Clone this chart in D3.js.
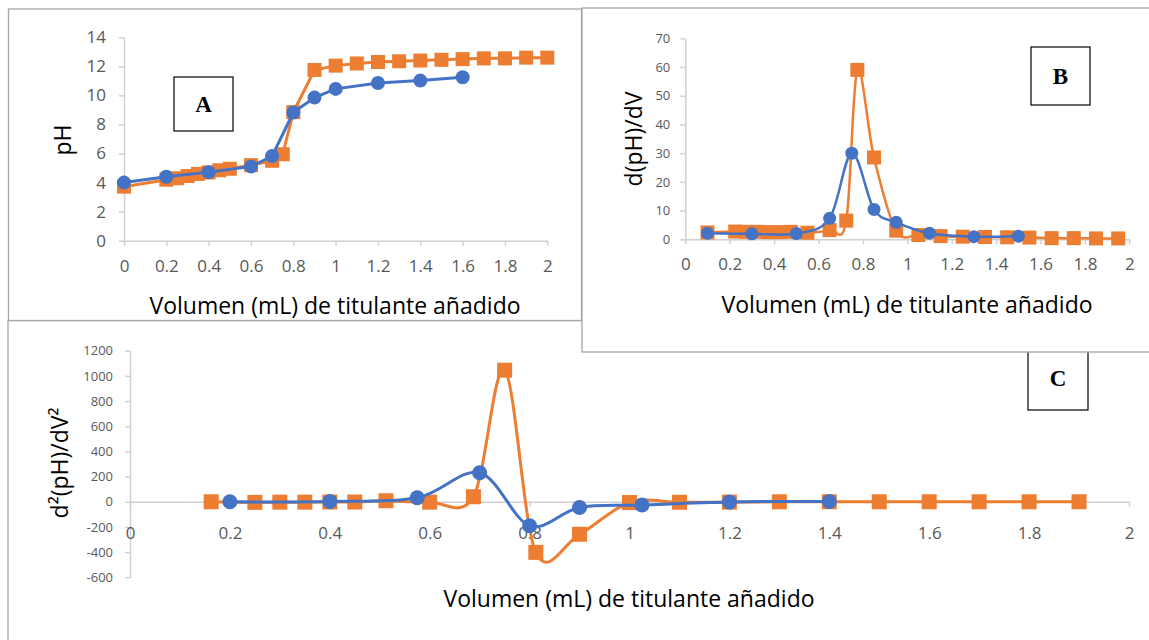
<!DOCTYPE html>
<html>
<head>
<meta charset="utf-8">
<script src="https://cdn.jsdelivr.net/npm/d3@7"></script>
<style>
  body { margin: 0; background: #fff; }
  text { font-family: "Open Sans", sans-serif; }
</style>
</head>
<body>
<svg id="chart" width="1149" height="640"></svg>
<script>
// ---- data ----
const xTicks = [0, 0.2, 0.4, 0.6, 0.8, 1, 1.2, 1.4, 1.6, 1.8, 2];

// A: pH vs volume
const yTicksA = [0, 2, 4, 6, 8, 10, 12, 14];
const volA_blue = [0, 0.2, 0.4, 0.6, 0.7, 0.8, 0.9, 1.0, 1.2, 1.4, 1.6];
const phA_blue = [4.0, 4.4, 4.72, 5.1, 5.83, 8.82, 9.85, 10.45, 10.85, 11.02, 11.25];
const volA_orange = [0, 0.2, 0.25, 0.3, 0.35, 0.4, 0.45, 0.5, 0.6, 0.7, 0.75, 0.8, 0.9, 1.0, 1.1, 1.2, 1.3, 1.4, 1.5, 1.6, 1.7, 1.8, 1.9, 2.0];
const phA_orange = [3.72, 4.2, 4.3, 4.45, 4.6, 4.7, 4.85, 4.95, 5.2, 5.5, 5.95, 8.85, 11.75, 12.05, 12.2, 12.3, 12.35, 12.4, 12.45, 12.5, 12.55, 12.55, 12.6, 12.6];

// B: first derivative
const yTicksB = [0, 10, 20, 30, 40, 50, 60, 70];
const volB_blue = [0.1, 0.3, 0.5, 0.65, 0.75, 0.85, 0.95, 1.1, 1.3, 1.5];
const dB_blue = [2.1, 1.9, 2.0, 7.3, 30, 10.4, 5.9, 2.1, 0.9, 1.1];
const volB_orange = [0.1, 0.225, 0.275, 0.325, 0.375, 0.425, 0.475, 0.55, 0.65, 0.725, 0.775, 0.85, 0.95, 1.05, 1.15, 1.25, 1.35, 1.45, 1.55, 1.65, 1.75, 1.85, 1.95];
const dB_orange = [2.4, 2.7, 2.6, 2.6, 2.5, 2.5, 2.6, 2.3, 3.2, 6.5, 59, 28.5, 3.0, 1.5, 1.1, 0.9, 0.8, 0.7, 0.6, 0.4, 0.4, 0.3, 0.3];

// C: second derivative
const yTicksC = [-600, -400, -200, 0, 200, 400, 600, 800, 1000, 1200];
const volC_blue = [0.2, 0.4, 0.575, 0.7, 0.8, 0.9, 1.025, 1.2, 1.4];
const d2C_blue = [0, 2, 32, 230, -190, -45, -26, -2, 3];
const volC_orange = [0.1625, 0.25, 0.3, 0.35, 0.4, 0.45, 0.5125, 0.6, 0.6875, 0.75, 0.8125, 0.9, 1.0, 1.1, 1.2, 1.3, 1.4, 1.5, 1.6, 1.7, 1.8, 1.9];
const d2C_orange = [0, -5, -3, -3, -2, -2, 8, -3, 40, 1045, -402, -258, -6, -4, -3, 0, 0, 0, 0, 0, 0, 0];

const xTitle = "Volumen (mL) de titulante añadido";

const BLUE = "#4472c4", ORANGE = "#ed7d31";
const AXIS = "#d0d0d0", TICKTXT = "#595959", FRAME = "#a6a6a6";

const svg = d3.select("#chart");
svg.append("rect").attr("width", 1149).attr("height", 640).attr("fill", "#fff");

const zip = (xs, ys) => xs.map((v, i) => ({x: v, y: ys[i]}));
const fmt = d => String(+d.toFixed(1));

function panel(g, o) {
  const x = d3.scaleLinear().domain([0, 2]).range(o.xr);
  const y = d3.scaleLinear().domain(o.yd).range(o.yr);
  const axisY = y(Math.max(0, o.yd[0]));

  const gy = g.append("g").attr("transform", `translate(${o.xr[0]},0)`)
    .call(d3.axisLeft(y).tickValues(o.yTicks).tickFormat(d => String(d))
      .tickSize(5).tickSizeOuter(0).tickPadding(o.yPad));
  gy.selectAll("text").attr("fill", TICKTXT).style("font-size", o.yFont + "px");

  const gx = g.append("g").attr("transform", `translate(0,${axisY})`)
    .call(d3.axisBottom(x).tickValues(xTicks).tickFormat(fmt).tickSize(5).tickSizeOuter(0).tickPadding(o.xPad));
  gx.selectAll("text").attr("fill", TICKTXT).style("font-size", o.xFont + "px");

  [gx, gy].forEach(a => {
    a.select(".domain").attr("stroke", AXIS).attr("stroke-width", 1.5);
    a.selectAll(".tick line").attr("stroke", AXIS).attr("stroke-width", 1.5);
  });

  const line = d3.line().x(d => x(d.x)).y(d => y(d.y)).curve(o.curve);

  // orange series (squares) first, blue (circles) on top
  const orange = zip(o.ox, o.oy);
  g.append("path").attr("d", line(orange)).attr("fill", "none")
    .attr("stroke", ORANGE).attr("stroke-width", o.lw);
  g.append("g").selectAll("rect").data(orange).join("rect")
    .attr("x", d => x(d.x) - o.sq / 2).attr("y", d => y(d.y) - o.sq / 2)
    .attr("width", o.sq).attr("height", o.sq).attr("fill", ORANGE);

  const blue = zip(o.bx, o.by);
  g.append("path").attr("d", line(blue)).attr("fill", "none")
    .attr("stroke", BLUE).attr("stroke-width", o.lw);
  g.append("g").selectAll("circle").data(blue).join("circle")
    .attr("cx", d => x(d.x)).attr("cy", d => y(d.y)).attr("r", o.r).attr("fill", BLUE);

  // axis titles
  g.append("text").attr("transform", `translate(${o.yt[0]},${o.yt[1]}) rotate(-90)`)
    .attr("text-anchor", "middle").attr("dy", "0.35em")
    .style("font-size", "23px").attr("fill", "#000").text(o.yTitle);
  g.append("text").attr("x", o.xt[0]).attr("y", o.xt[1])
    .attr("text-anchor", "middle").attr("dy", "0.35em")
    .style("font-size", "23px").attr("fill", "#000").text(xTitle);
}

function labelBox(g, x0, y0, x1, y1, letter) {
  g.append("rect").attr("x", x0).attr("y", y0).attr("width", x1 - x0).attr("height", y1 - y0)
    .attr("fill", "#fff").attr("stroke", "#000").attr("stroke-width", 1.2);
  g.append("text").attr("x", (x0 + x1) / 2).attr("y", (y0 + y1) / 2).attr("dy", "0.35em")
    .attr("text-anchor", "middle").style("font-family", "'Liberation Serif', serif")
    .style("font-weight", "bold").style("font-size", "23px").text(letter);
}

// ---- C (underneath) ----
const gC = svg.append("g");
gC.append("rect").attr("x", 8).attr("y", 320.5).attr("width", 1200).attr("height", 400)
  .attr("fill", "#fff").attr("stroke", FRAME).attr("stroke-width", 1.3);
labelBox(gC, 1028, 345, 1088, 410, "C");
panel(gC, {
  xr: [130, 1129], yd: [-600, 1200], yr: [577.3, 350.7], yTicks: yTicksC,
  yPad: 12, yFont: 13, xPad: 20, xFont: 17,
  ox: volC_orange, oy: d2C_orange, bx: volC_blue, by: d2C_blue,
  curve: d3.curveCatmullRom.alpha(0), lw: 3, sq: 15, r: 7.5,
  yTitle: "d²(pH)/dV²", yt: [60, 463], xt: [629, 599]
});

// ---- A ----
const gA = svg.append("g");
gA.append("rect").attr("x", 8.5).attr("y", 9).attr("width", 573).attr("height", 311.5)
  .attr("fill", "#fff").attr("stroke", FRAME).attr("stroke-width", 1.3);
panel(gA, {
  xr: [124, 547.3], yd: [0, 14], yr: [240.7, 37.3], yTicks: yTicksA,
  yPad: 13, yFont: 17, xPad: 14, xFont: 17,
  ox: volA_orange, oy: phA_orange, bx: volA_blue, by: phA_blue,
  curve: d3.curveLinear, lw: 3, sq: 14, r: 7,
  yTitle: "pH", yt: [63, 140], xt: [335, 306]
});
labelBox(gA, 174, 77, 233, 131, "A");

// ---- B (on top) ----
const gB = svg.append("g");
gB.append("rect").attr("x", 582).attr("y", 8).attr("width", 600).attr("height", 344)
  .attr("fill", "#fff").attr("stroke", FRAME).attr("stroke-width", 1.3);
panel(gB, {
  xr: [685.3, 1129.3], yd: [0, 70], yr: [239.3, 38.3], yTicks: yTicksB,
  yPad: 10, yFont: 13, xPad: 14, xFont: 17,
  ox: volB_orange, oy: dB_orange, bx: volB_blue, by: dB_blue,
  curve: d3.curveCatmullRom.alpha(0), lw: 2.5, sq: 14, r: 6.5,
  yTitle: "d(pH)/dV", yt: [634, 139], xt: [907, 305]
});
labelBox(gB, 1031, 47, 1090, 105, "B");
</script>
</body>
</html>
